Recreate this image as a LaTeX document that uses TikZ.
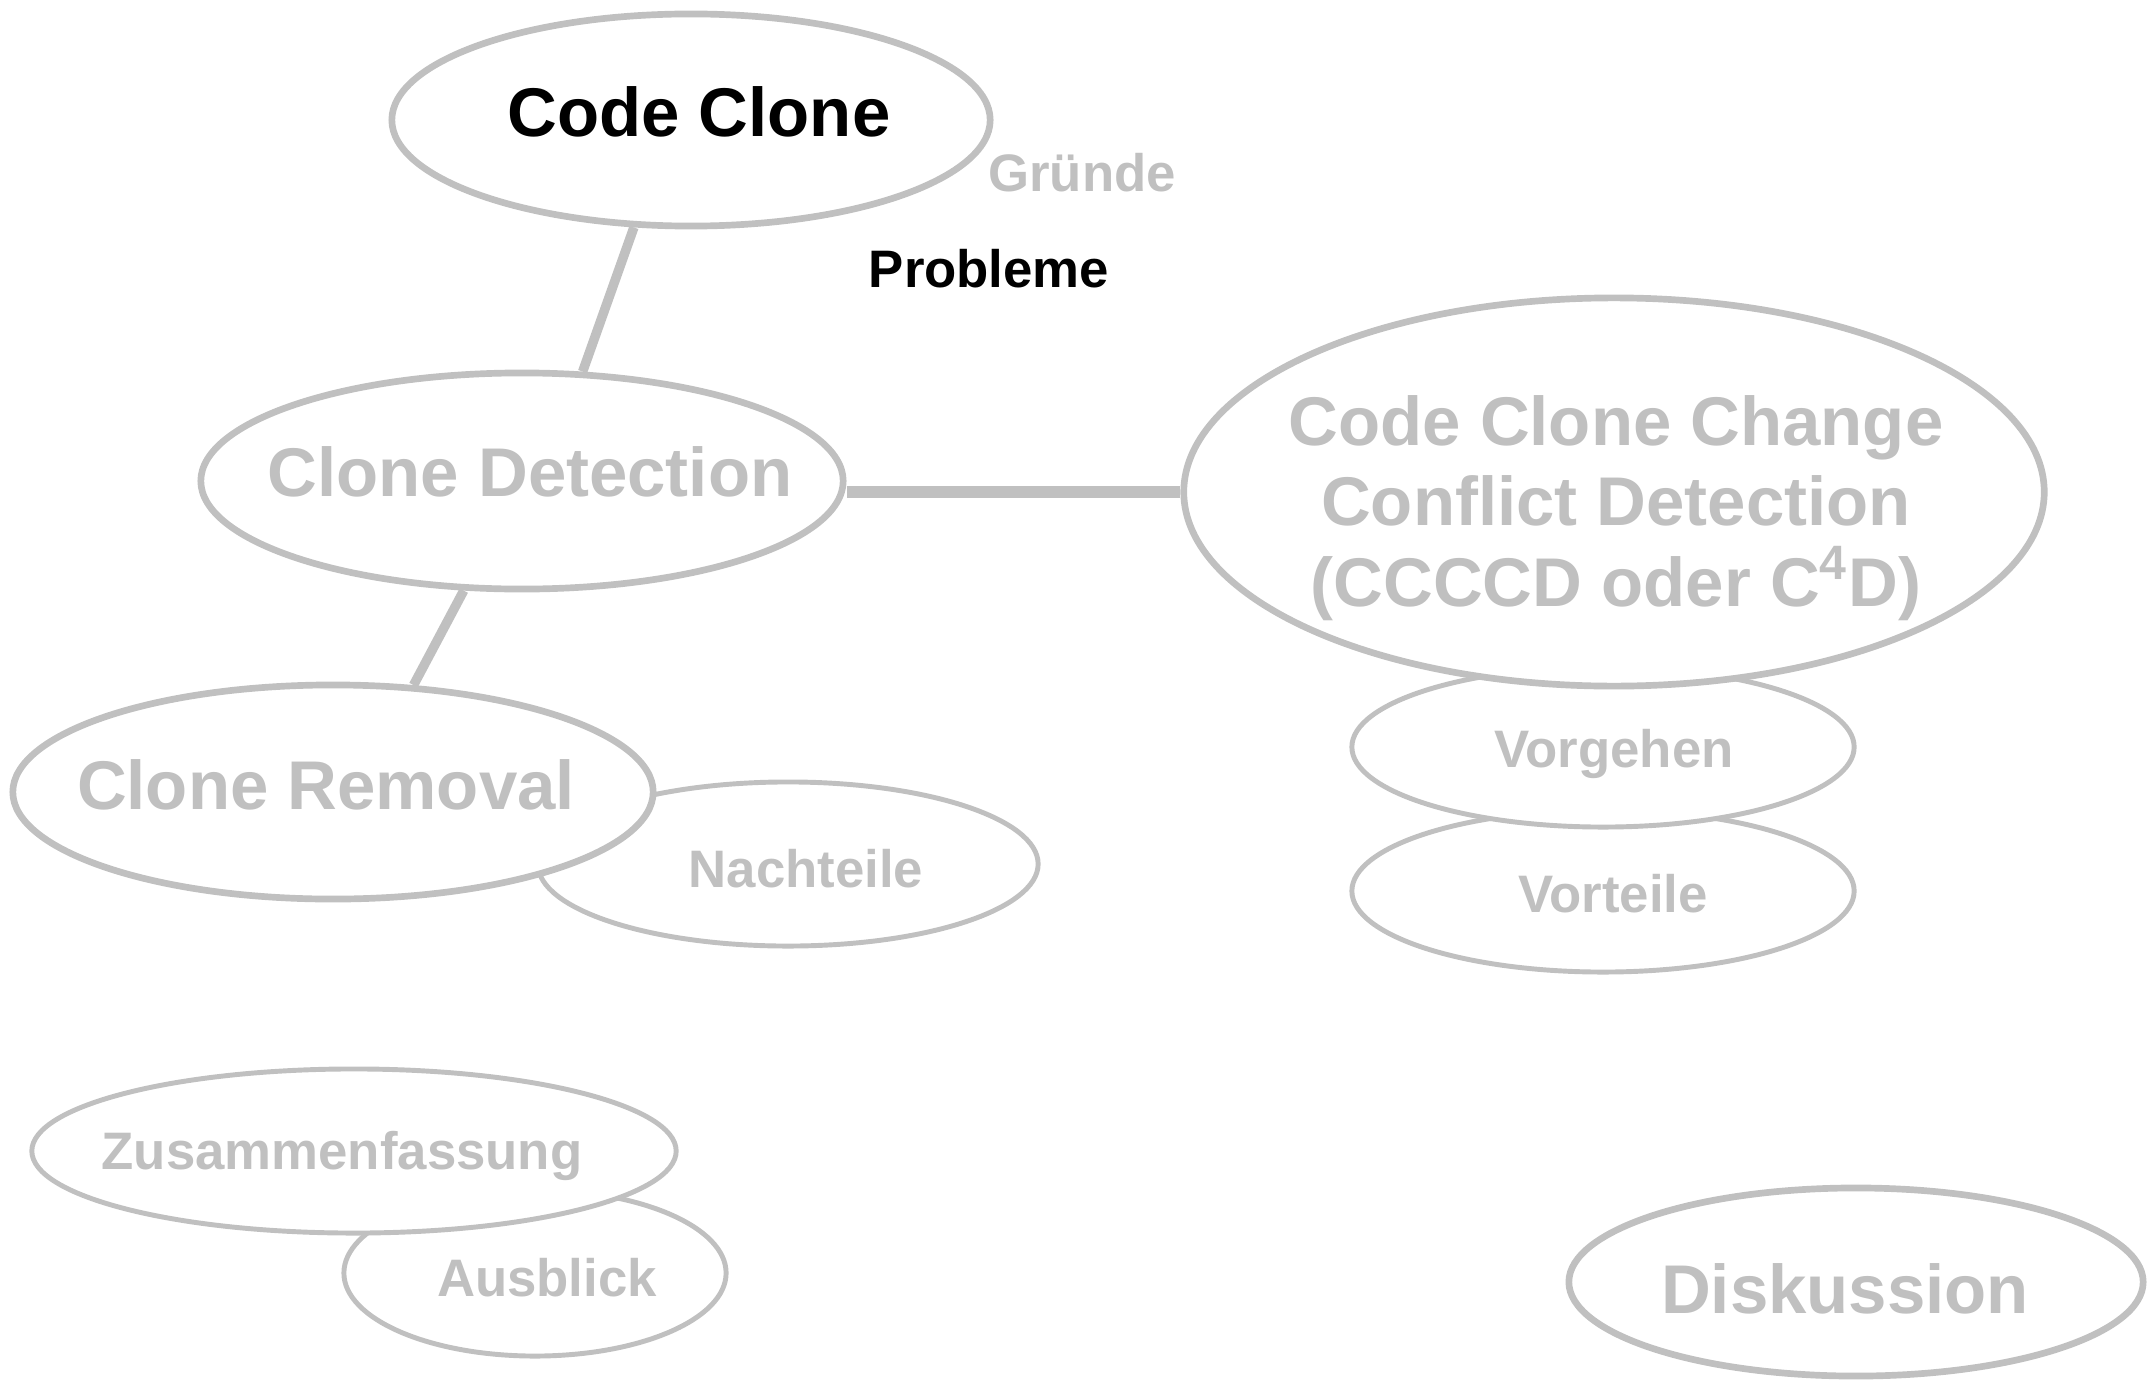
\documentclass[tikz,border=0pt]{standalone}
\usepackage{fontspec}
\setmainfont{Liberation Sans}
\usetikzlibrary{shapes.geometric}
\definecolor{clonegray}{HTML}{C0C0C0}

\begin{document}
\begin{tikzpicture}[x=0.01cm,y=-0.01cm,
  bubble/.style={ellipse,draw=clonegray,fill=white,line width=1.4pt,inner sep=0pt},
  bigbubble/.style={bubble,line width=1.9pt},
  link/.style={draw=clonegray,line width=2.7pt},
  bigtext/.style={font=\fontsize{19.6}{22.8}\selectfont\bfseries,text=clonegray,
    text height=14pt,text depth=0pt,inner sep=0pt},
  smalltext/.style={font=\fontsize{15}{18}\selectfont\bfseries,text=clonegray,
    text height=10.7pt,text depth=0pt,inner sep=0pt}]
  \useasboundingbox (0,0) rectangle (2155,1382);

  % main topic
  \node[bigbubble,minimum width=5.98cm,minimum height=2.12cm] (cc) at (691,120) {};
  \node[bigtext,text=black] (cc-t) at (699,112) {Code Clone};
  \node[smalltext] (gruende) at (1082,173) {Gründe};
  \node[smalltext,text=black] (probleme) at (989,269) {Probleme};

  % detection
  \node[bigbubble,minimum width=6.42cm,minimum height=2.16cm] (cd) at (522,481) {};
  \node[bigtext] (cd-t) at (530,472) {Clone Detection};

  % removal, with its drawbacks behind it
  \node[bubble,minimum width=5.0cm,minimum height=1.64cm] (nach) at (788,864) {};
  \node[smalltext] (nach-t) at (806,869) {Nachteile};
  \node[bigbubble,minimum width=6.4cm,minimum height=2.14cm] (cr) at (333,792) {};
  \node[bigtext] (cr-t) at (326,785) {Clone Removal};

  % CCCCD with its two sub topics
  \node[bubble,minimum width=5.02cm,minimum height=1.62cm] (vort) at (1603,891) {};
  \node[smalltext] (vort-t) at (1613,894) {Vorteile};
  \node[bubble,minimum width=5.02cm,minimum height=1.6cm] (vorg) at (1603,747) {};
  \node[smalltext] (vorg-t) at (1614,749) {Vorgehen};
  \node[bigbubble,minimum width=8.6cm,minimum height=3.88cm] (cccd) at (1614,492) {};
  \node[font=\fontsize{19.6}{22.8}\selectfont\bfseries,text=clonegray,align=center,
    inner sep=0pt] (cccd-t) at (1616,508)
    {Code Clone Change\\Conflict Detection\\(CCCCD oder C\textsuperscript{4}D)};

  % closing
  \node[bubble,minimum width=3.82cm,minimum height=1.66cm] (aus) at (535,1273) {};
  \node[smalltext] (aus-t) at (547,1278) {Ausblick};
  \node[bubble,minimum width=6.44cm,minimum height=1.64cm] (zus) at (354,1151) {};
  \node[smalltext] (zus-t) at (342,1151) {Zusammenfassung};
  \node[bigbubble,minimum width=5.74cm,minimum height=1.88cm] (disk) at (1856,1282) {};
  \node[bigtext] (disk-t) at (1845,1289) {Diskussion};

  % connectors
  \draw[link] (cc.242) -- (cd.61);
  \draw[link] (cd.242) -- (cr.53);
  \draw[link,line width=3.2pt] (cccd.west) -- (cccd.west -| cd.east);
\end{tikzpicture}
\end{document}
